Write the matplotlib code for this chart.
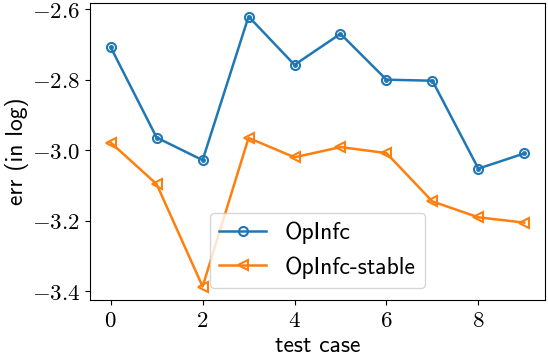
import matplotlib
matplotlib.use("Agg")
import matplotlib.pyplot as plt
from matplotlib.ticker import FuncFormatter

# test cases and errors (log10)
cases = [0, 1, 2, 3, 4, 5, 6, 7, 8, 9]
err_opinf = [-2.708, -2.964, -3.028, -2.621, -2.758, -2.670, -2.800, -2.803, -3.052, -3.009]
err_stable = [-2.978, -3.096, -3.386, -2.965, -3.020, -2.991, -3.008, -3.145, -3.190, -3.205]

plt.rcParams['font.family'] = 'cmss10'
plt.rcParams['mathtext.fontset'] = 'cm'
plt.rcParams['axes.unicode_minus'] = False
plt.rcParams['font.size'] = 17

fig = plt.figure(figsize=(5.48, 3.54), dpi=100)
ax = fig.add_axes([90 / 548, 54 / 354, 455 / 548, 297 / 354])

ax.plot(cases, err_opinf, marker='o', mfc='none', ms=6.5, mew=1.5, lw=1.8,
        color='tab:blue', label='OpInfc')
ax.plot(cases, err_opinf, 'o', ms=2.5, color='tab:blue')
ax.plot(cases, err_stable, marker='<', mfc='none', ms=7, mew=1.5, lw=1.8,
        color='tab:orange', label='OpInfc-stable')

ax.set_xticks([0, 2, 4, 6, 8])
ax.set_yticks([-2.6, -2.8, -3.0, -3.2, -3.4])
ax.xaxis.set_major_formatter(FuncFormatter(lambda v, p: r'$%d$' % v))
ax.yaxis.set_major_formatter(FuncFormatter(lambda v, p: r'$%.1f$' % v))
ax.tick_params(labelsize=16.5)

ax.set_xlabel('test case', labelpad=2)
ax.set_ylabel('err (in log)', labelpad=2)
ax.legend(loc='lower center', fontsize=17)

fig.savefig('out.png', dpi=100)
